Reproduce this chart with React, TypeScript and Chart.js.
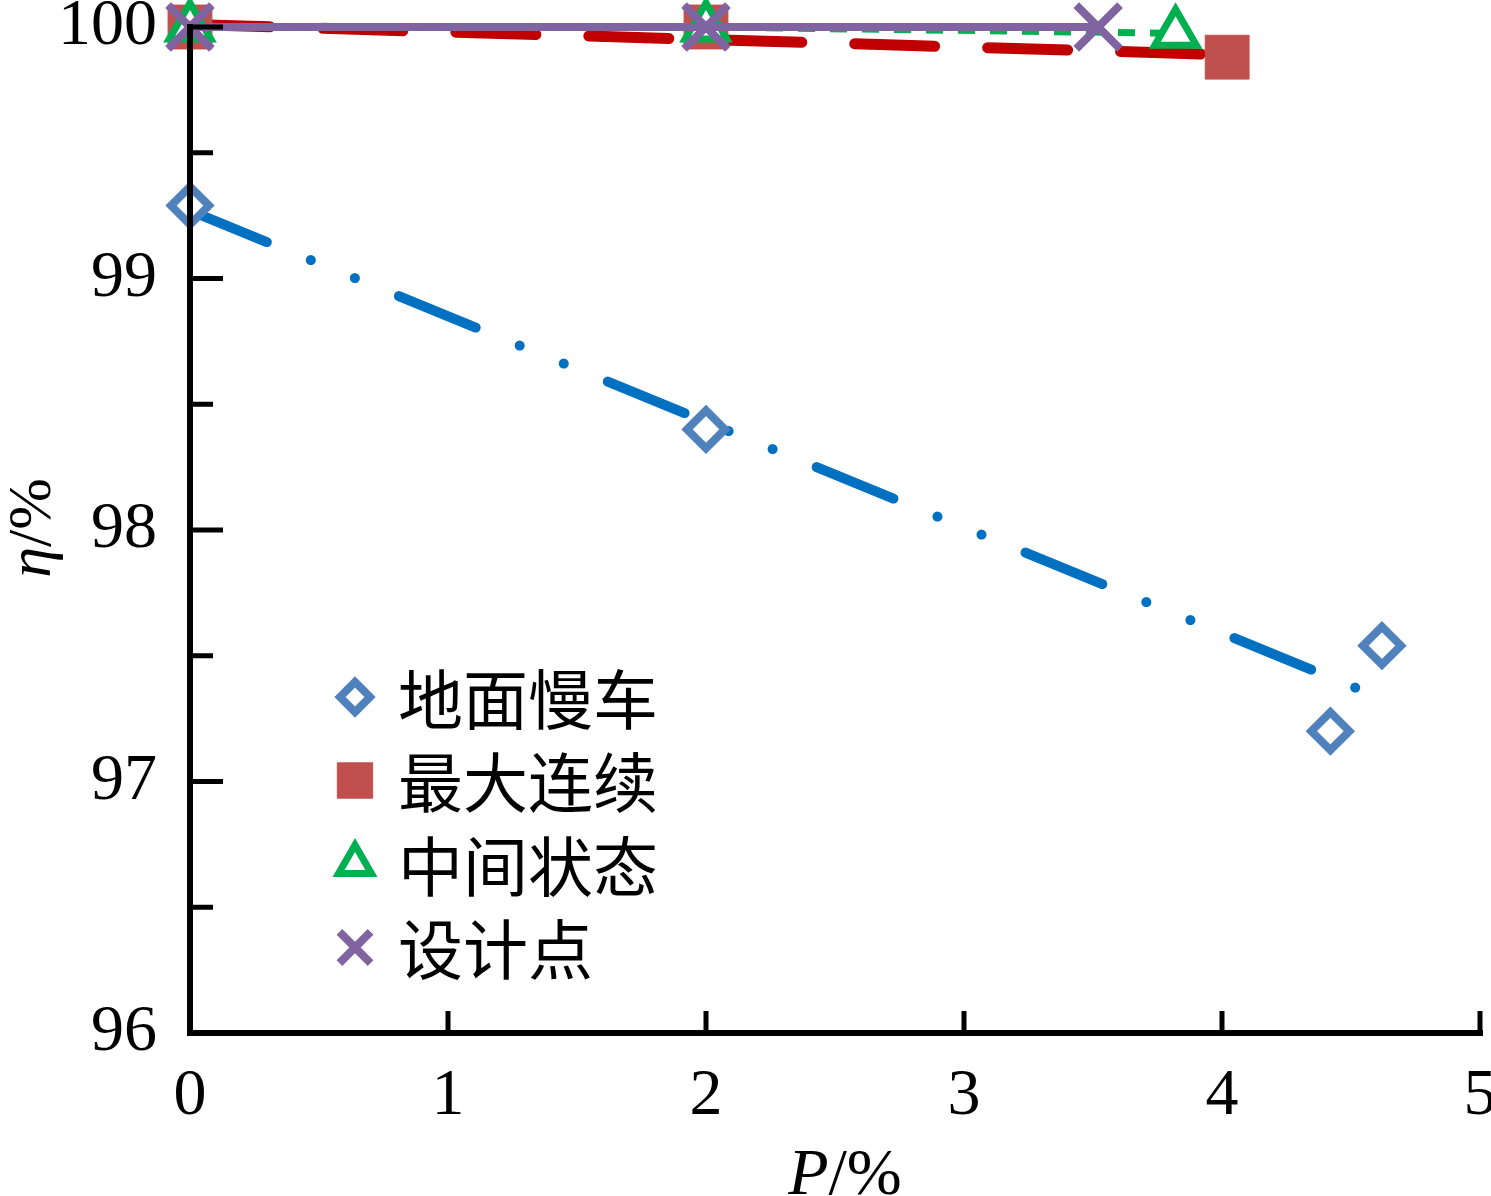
import { useEffect, useRef } from 'react'
import Chart from 'chart.js/auto'
import { drawPoint } from 'chart.js/helpers'

const idleX = [0, 2, 4.42, 4.62]
const idleY = [99.29, 98.4, 97.2, 97.54]
const maxContX = [0, 2, 4.02]
const maxContY = [100, 100, 99.88]
const midX = [0, 2, 3.82]
const midY = [100, 100, 99.975]
const designX = [0, 2, 3.52]
const designY = [100, 100, 100]
// trend lines drawn through the idle and max-continuous points
const idleTrendX = [0, 4.62]
const idleTrendY = [99.27, 97.33]
const maxContTrendX = [0, 4.02]
const maxContTrendY = [100.01, 99.89]
const seriesNames = ['地面慢车', '最大连续', '中间状态', '设计点']
const xRange = [0, 5]
const yRange = [96, 100]

const serif = '"Liberation Serif", "Times New Roman", serif'
const cjk = '"Noto Sans CJK SC", sans-serif'

const pts = (xs: number[], ys: number[]) => xs.map((x, i) => ({ x, y: ys[i] }))

const legendRadius = [15, 25, 19, 22]

const decorPlugin = {
  id: 'decor',
  afterDatasetsDraw(chart: any) {
    const { ctx, chartArea } = chart
    const xs = chart.scales.x
    const ys = chart.scales.y
    ctx.save()
    ctx.strokeStyle = '#000'
    ctx.lineCap = 'square'
    // axis lines
    ctx.lineWidth = 6
    ctx.beginPath()
    ctx.moveTo(chartArea.left, chartArea.top)
    ctx.lineTo(chartArea.left, chartArea.bottom)
    ctx.lineTo(chartArea.right, chartArea.bottom)
    ctx.stroke()
    // inward ticks
    ctx.lineWidth = 5
    ctx.lineCap = 'butt'
    ctx.beginPath()
    const yt = ys.ticks.map((t: any) => t.value)
    yt.forEach((v: number, i: number) => {
      const p = ys.getPixelForValue(v)
      ctx.moveTo(chartArea.left, p)
      ctx.lineTo(chartArea.left + 33, p)
      if (i < yt.length - 1) {
        const m = ys.getPixelForValue((v + yt[i + 1]) / 2)
        ctx.moveTo(chartArea.left, m)
        ctx.lineTo(chartArea.left + 23, m)
      }
    })
    xs.ticks.forEach((t: any) => {
      const p = xs.getPixelForValue(t.value)
      ctx.moveTo(p, chartArea.bottom)
      ctx.lineTo(p, chartArea.bottom - 22)
    })
    ctx.stroke()

    // axis titles
    ctx.fillStyle = '#000'
    ctx.textBaseline = 'alphabetic'
    ctx.textAlign = 'left'
    ctx.save()
    ctx.translate(50, 528)
    ctx.rotate(-Math.PI / 2)
    ctx.font = `italic 62px ${serif}`
    const etaW = ctx.measureText('η').width
    ctx.font = `62px ${serif}`
    const restW = ctx.measureText('/%').width
    const startY = -(etaW + restW) / 2
    ctx.font = `italic 62px ${serif}`
    ctx.fillText('η', startY, 0)
    ctx.font = `62px ${serif}`
    ctx.fillText('/%', startY + etaW, 0)
    ctx.restore()

    ctx.font = `italic 66px ${serif}`
    const pW = ctx.measureText('P').width
    ctx.font = `66px ${serif}`
    const pctW = ctx.measureText('/%').width
    const sx = 845 - (pW + pctW) / 2
    ctx.font = `italic 66px ${serif}`
    ctx.fillText('P', sx, 1194)
    ctx.font = `66px ${serif}`
    ctx.fillText('/%', sx + pW, 1194)

    // legend (marker series only)
    ctx.font = `65px ${cjk}`
    ctx.textBaseline = 'middle'
    chart.data.datasets.slice(0, 4).forEach((ds: any, i: number) => {
      const cy = 697 + i * 83.5
      ctx.fillStyle = ds.pointBackgroundColor
      ctx.strokeStyle = ds.pointBorderColor
      ctx.lineWidth = ds.pointBorderWidth
      ctx.setLineDash([])
      drawPoint(ctx, {
        pointStyle: ds.pointStyle,
        rotation: 0,
        radius: legendRadius[i],
        borderWidth: ds.pointBorderWidth,
      }, 355, cy)
      ctx.fillStyle = '#000'
      ctx.fillText(ds.label, 398, cy + 2)
    })
    ctx.restore()
  },
}

export default function App() {
  const canvasRef = useRef<HTMLCanvasElement>(null)
  const chartRef = useRef<Chart | null>(null)

  useEffect(() => {
    if (!canvasRef.current) return
    if (chartRef.current) chartRef.current.destroy()

    chartRef.current = new Chart(canvasRef.current, {
      type: 'line',
      data: {
        datasets: [
          {
            label: seriesNames[0],
            data: pts(idleX, idleY),
            showLine: false,
            pointStyle: 'rectRot',
            pointRadius: 19,
            pointBorderWidth: 8,
            pointBorderColor: '#4F81BD',
            pointBackgroundColor: '#ffffff',
            order: 5,
            clip: false,
          },
          {
            label: seriesNames[1],
            data: pts(maxContX, maxContY),
            showLine: false,
            pointStyle: 'rect',
            pointRadius: 31,
            pointBorderWidth: 1,
            pointBorderColor: '#C0504D',
            pointBackgroundColor: '#C0504D',
            order: 3,
            clip: false,
          },
          {
            label: seriesNames[2],
            data: pts(midX, midY),
            borderColor: '#00B050',
            borderWidth: 7,
            borderDash: [17, 15],
            pointStyle: 'triangle',
            pointRadius: 24,
            pointBorderWidth: 7,
            pointBorderColor: '#00B050',
            pointBackgroundColor: '#ffffff',
            order: 2,
            clip: false,
          },
          {
            label: seriesNames[3],
            data: pts(designX, designY),
            borderColor: '#8064A2',
            borderWidth: 8,
            pointStyle: 'crossRot',
            pointRadius: 31,
            pointBorderWidth: 8,
            pointBorderColor: '#8064A2',
            pointBackgroundColor: '#8064A2',
            order: 1,
            clip: false,
          },
          {
            label: seriesNames[0] + ' trend',
            data: pts(idleTrendX, idleTrendY),
            borderColor: '#0070C0',
            borderWidth: 10,
            borderDash: [83, 47.5, 0.1, 47.5, 0.1, 47.5],
            borderCapStyle: 'round',
            pointRadius: 0,
            order: 6,
            clip: false,
          },
          {
            label: seriesNames[1] + ' trend',
            data: pts(maxContTrendX, maxContTrendY),
            borderColor: '#C00000',
            borderWidth: 11,
            borderDash: [80, 53],
            borderCapStyle: 'round',
            pointRadius: 0,
            order: 4,
            clip: false,
          },
        ],
      },
      options: {
        animation: false,
        responsive: true,
        maintainAspectRatio: false,
        layout: { autoPadding: false, padding: { left: 0, top: 27, right: 11, bottom: 0 } },
        plugins: {
          legend: { display: false },
          tooltip: { enabled: false },
        },
        elements: { line: { tension: 0 } },
        scales: {
          x: {
            type: 'linear',
            min: xRange[0],
            max: xRange[1],
            ticks: {
              stepSize: 1,
              color: '#000',
              padding: 31,
              font: { family: serif, size: 66, lineHeight: 1 },
            },
            grid: { display: false, drawTicks: false },
            border: { display: false },
            afterFit: (s: any) => {
              s.height = 163
              s.paddingLeft = 0
              s.paddingRight = 0
            },
          },
          y: {
            min: yRange[0],
            max: yRange[1],
            ticks: {
              stepSize: 1,
              color: '#000',
              padding: 33,
              font: { family: serif, size: 66, lineHeight: 1 },
            },
            grid: { display: false, drawTicks: false },
            border: { display: false },
            afterFit: (s: any) => {
              s.width = 190
              s.paddingTop = 0
              s.paddingBottom = 0
            },
          },
        },
      },
      plugins: [decorPlugin],
    } as any)

    return () => {
      if (chartRef.current) {
        chartRef.current.destroy()
        chartRef.current = null
      }
    }
  }, [])

  return (
    <div style={{ position: 'absolute', left: 0, top: 0, width: 1491, height: 1196, background: '#fff' }}>
      <canvas ref={canvasRef} />
    </div>
  )
}
